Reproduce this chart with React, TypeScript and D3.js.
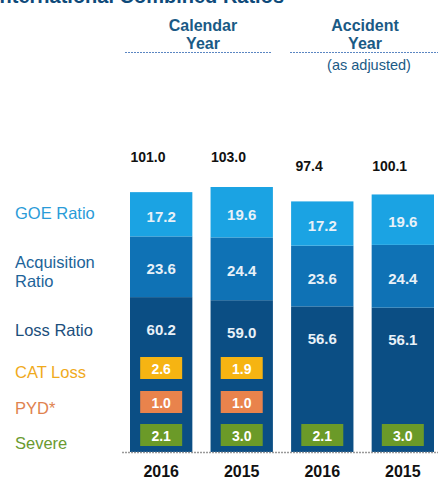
import React from "react";
import * as d3 from "d3";

const categories = ["2016", "2015", "2016", "2015"];
const groups = ["calendar", "calendar", "accident", "accident"];
const goeRatio = [17.2, 19.6, 17.2, 19.6];
const acquisitionRatio = [23.6, 24.4, 23.6, 24.4];
const lossRatio = [60.2, 59.0, 56.6, 56.1];
const totals = ["101.0", "103.0", "97.4", "100.1"];
const catLoss: (number | null)[] = [2.6, 1.9, null, null];
const pyd: (number | null)[] = [1.0, 1.0, null, null];
const severe: (number | null)[] = [2.1, 3.0, 2.1, 3.0];

const W = 438;
const H = 481;
const FONT = "'Liberation Sans', Arial, sans-serif";

export default function App() {
  const x = d3
    .scaleBand<number>()
    .domain(d3.range(categories.length))
    .range([130, 434])
    .paddingInner(0.226)
    .paddingOuter(0);
  const y = d3.scaleLinear().domain([0, 103]).range([452, 187]);

  const stack = d3
    .stack<number, number>()
    .keys(["loss", "acq", "goe"] as any)
    .value((i: number, key: any) =>
      key === "loss" ? lossRatio[i] : key === "acq" ? acquisitionRatio[i] : goeRatio[i]
    );
  const series = stack(d3.range(categories.length) as any);
  const colors: Record<string, string> = {
    loss: "#0b4e84",
    acq: "#0f72b5",
    goe: "#1ba3e3",
  };
  const vals: Record<string, number[]> = {
    loss: lossRatio,
    acq: acquisitionRatio,
    goe: goeRatio,
  };
  const sums = d3.range(categories.length).map((i) => goeRatio[i] + acquisitionRatio[i] + lossRatio[i]);
  const groupMin = (g: string) =>
    d3.min(sums.filter((_, i) => groups[i] === g)) as number;

  const boxes = [
    { data: catLoss, color: "#f6b412", cy: 368 },
    { data: pyd, color: "#e9834c", cy: 402 },
    { data: severe, color: "#6b9a28", cy: 435 },
  ];

  const leftLabels = [
    { lines: ["GOE Ratio"], y: 213, color: "#2a9bd8" },
    { lines: ["Acquisition", "Ratio"], y: 262, color: "#1d6499" },
    { lines: ["Loss Ratio"], y: 330, color: "#1b4e7c" },
    { lines: ["CAT Loss"], y: 372, color: "#f0aa1c" },
    { lines: ["PYD*"], y: 408, color: "#e0824f" },
    { lines: ["Severe"], y: 443, color: "#6a9a30" },
  ];

  const bw = x.bandwidth();

  return (
    <svg
      width={W}
      height={H}
      style={{ position: "absolute", left: 0, top: 0, background: "#fff" }}
      fontFamily={FONT}
    >
      <text x={-6} y={3} fontSize={20} fontWeight="bold" fill="#0e4a7a">
        International Combined Ratios
      </text>

      {/* group headers */}
      <g fill="#1a5a85" fontWeight="bold" fontSize={16} textAnchor="middle">
        <text x={203} y={31}>Calendar</text>
        <text x={203} y={49}>Year</text>
        <text x={365} y={31}>Accident</text>
        <text x={365} y={49}>Year</text>
      </g>
      <text x={369} y={70} fontSize={14.5} fill="#1a5a85" textAnchor="middle">
        (as adjusted)
      </text>
      <line x1={125} x2={272} y1={52.5} y2={52.5} stroke="#5b86c2" strokeWidth={1.2} strokeDasharray="2,1" />
      <line x1={290} x2={438} y1={52.5} y2={52.5} stroke="#5b86c2" strokeWidth={1.2} strokeDasharray="2,1" />

      {/* left labels */}
      {leftLabels.map((l, i) => (
        <text key={i} x={15} y={l.y} fontSize={16.5} fill={l.color} dominantBaseline="central">
          {l.lines.map((s, j) => (
            <tspan key={j} x={15} dy={j === 0 ? 0 : 19}>
              {s}
            </tspan>
          ))}
        </text>
      ))}

      {/* stacked bars */}
      {series.map((s: any) => (
        <g key={s.key}>
          {s.map((d: any, i: number) => (
            <rect
              key={i}
              x={x(i)}
              y={y(d[1])}
              width={bw}
              height={y(d[0]) - y(d[1])}
              fill={colors[s.key]}
            />
          ))}
          {s.map((d: any, i: number) => {
            const cy = s.key === "loss" ? y(d[1]) + 32 : (y(d[0]) + y(d[1])) / 2 + 2;
            return (
              <text
                key={"t" + i}
                x={(x(i) as number) + bw / 2}
                y={cy}
                fill="#e8f1f8"
                fontWeight="bold"
                fontSize={15}
                textAnchor="middle"
                dominantBaseline="central"
              >
                {vals[s.key][i].toFixed(1)}
              </text>
            );
          })}
        </g>
      ))}

      {/* small boxes */}
      {boxes.map((b, k) =>
        b.data.map((v, i) =>
          v == null ? null : (
            <g key={k + "-" + i}>
              <rect
                x={(x(i) as number) + bw / 2 - 21}
                y={b.cy - 11}
                width={42}
                height={22}
                fill={b.color}
              />
              <text
                x={(x(i) as number) + bw / 2}
                y={b.cy + 1}
                fill="#fff"
                fontWeight="bold"
                fontSize={14}
                textAnchor="middle"
                dominantBaseline="central"
              >
                {v.toFixed(1)}
              </text>
            </g>
          )
        )
      )}

      {/* totals */}
      {totals.map((t, i) => (
        <text
          key={i}
          x={(x(i) as number) + 18}
          y={y(groupMin(groups[i])) - 35}
          fontSize={14}
          fontWeight="bold"
          fill="#111"
          textAnchor="middle"
          dominantBaseline="central"
        >
          {t}
        </text>
      ))}

      {/* baseline */}
      <line x1={122} x2={438} y1={452.5} y2={452.5} stroke="#9a9a9a" strokeWidth={1.5} strokeDasharray="2,1" />

      {/* categories */}
      {categories.map((c, i) => (
        <text
          key={i}
          x={(x(i) as number) + bw / 2}
          y={471}
          fontSize={16}
          fontWeight="bold"
          fill="#111"
          textAnchor="middle"
          dominantBaseline="central"
        >
          {c}
        </text>
      ))}
    </svg>
  );
}
